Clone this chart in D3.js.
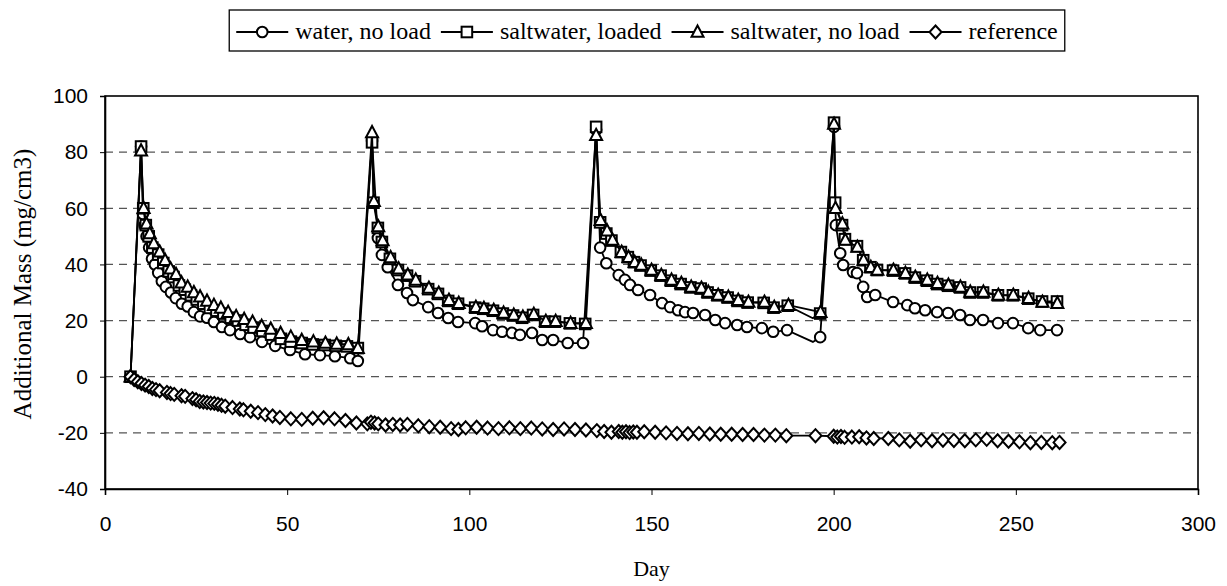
<!DOCTYPE html>
<html>
<head>
<meta charset="utf-8">
<script src="https://cdn.jsdelivr.net/npm/d3@7"></script>
<style>
  body { margin: 0; background: #fff; }
  svg { display: block; }
</style>
</head>
<body>
<div id="chart"></div>
<script>
// series data (day, mass); days listed in the "hidden" arrays get no marker
var waterDays = [7, 9.9, 10.4, 10.9, 11.4, 12.1, 12.9, 13.7, 14.6, 15.6, 16.7, 18.1, 19.4, 21.1, 22.7, 24.4, 26.1, 28, 29.9, 32.1, 34.3, 37.1, 39.8, 43.1, 46.7, 50.8, 54.9, 59, 63.1, 67.3, 69.4,
  73.3, 74.9, 76, 77.6, 80.4, 82.9, 84.5, 88.7, 91.4, 94.2, 96.9, 101.6, 103.5, 106.5, 109, 111.7, 113.9, 117.2, 120, 123, 127, 131.2,
  134.8, 135.9, 137.6, 141, 142.7, 144.1, 146.3, 149.6, 152.9, 155.1, 157.3, 159.2, 161.4, 164.7, 167.5, 170.2, 173.5, 176.2, 180.3, 183.4, 187.2, 194.3, 196.3,
  200.1, 200.6, 201.8, 202.6, 205.3, 206.4, 208.1, 209.2, 211.4, 216.3, 220.2, 222.3, 225.1, 228.4, 231.4, 234.7, 237.4, 241, 245.1, 249.2, 253.4, 256.7, 261.3];
var waterVals = [0, 82, 58, 54, 50, 46, 42, 40, 37, 34, 32, 30, 28, 26, 25, 23, 21.5, 21, 19.5, 17.7, 16.6, 15.2, 14.1, 12.4, 11, 9.5, 8, 7.7, 7.3, 6.6, 5.6,
  84, 49.4, 43.4, 39, 32.7, 29.8, 27.3, 24.8, 22.7, 20.9, 19.5, 19.1, 18, 16.6, 16, 15.6, 14.9, 15.6, 13.1, 13.1, 12, 12,
  88, 46, 40.4, 36.2, 34.5, 32.7, 30.9, 29.1, 26.2, 24.8, 23.7, 23, 22.7, 22, 20.2, 19.1, 18.4, 17.7, 17.3, 16, 16.6, 12.4, 14.1,
  89, 54, 44, 39.8, 37.3, 36.9, 32, 28.4, 29.1, 26.6, 25.5, 24.4, 23.7, 23, 22.7, 22, 20.2, 20.2, 19.1, 19.1, 17.3, 16.6, 16.6];
var waterHidden = [194.3];

var loadedDays = [7, 9.9, 10.5, 11.2, 12, 13, 14.6, 16, 17.5, 18.8, 20.3, 21.9, 23.6, 25.2, 27, 28.8, 30.6, 32.5, 34.5, 36.5, 38.6, 40.8, 43.2, 45.6, 48.3, 51, 54, 57, 60.3, 63.3, 66.4, 69.4,
  73.3, 73.7, 74.9, 76, 78.2, 80.4, 82.9, 85.1, 88.7, 91.4, 94.2, 96.9, 101.6, 103.8, 106.5, 109.2, 112, 114.5, 117.5, 120.8, 123.5, 127.6, 131.8,
  134.8, 135.9, 137.6, 139, 141.6, 143.5, 145.2, 147, 149.8, 152.5, 155.3, 158, 160.7, 163.5, 165.4, 168.1, 170.9, 173.6, 176.4, 180.8, 183.5, 187.4, 194.3, 196.3,
  200.1, 200.4, 202.3, 203.1, 206.4, 208.1, 210.1, 211.9, 216.3, 219.6, 222.3, 225.6, 228.4, 231.4, 234.7, 237.4, 241, 245.1, 249.2, 253.4, 257.2, 261.3];
var loadedVals = [0, 82, 60, 54, 50, 46, 43.5, 40.5, 37.5, 35.5, 32.5, 31, 29, 27.5, 26, 24.5, 23.5, 22.5, 21, 20, 18.5, 17.5, 16.3, 15, 13.5, 12.5, 12, 11.5, 11.3, 11, 10.8, 10.2,
  83.5, 62, 53, 48, 42, 38, 36, 34, 31.2, 29.5, 27, 26, 24.6, 24.2, 23.5, 22.5, 21.8, 21, 22, 19.6, 19.6, 19, 18.8,
  89, 55, 51, 48.5, 44.4, 42.6, 40.8, 39.6, 37.8, 36, 34.2, 33, 31.8, 31.4, 30, 29, 28.2, 27, 26.4, 26.3, 24.6, 25.3, 20.8, 22.5,
  90.5, 62, 54, 49, 46.5, 41.5, 39, 38, 37.8, 36.8, 35.3, 34.2, 33, 32.4, 31.8, 30, 30, 29, 29, 27.8, 26.8, 26.8];
var loadedHidden = [194.3];

var noloadDays = [7, 9.9, 10.6, 11.4, 12.3, 13.4, 15, 16.5, 18, 19.5, 21, 22.7, 24.4, 26.1, 28, 29.9, 31.8, 33.8, 36, 38.2, 40.5, 43, 45.5, 48.2, 51, 54, 57.2, 60.5, 63.6, 66.8, 69.4,
  73.3, 73.8, 75, 76.2, 78.4, 80.6, 83.1, 85.3, 88.9, 91.6, 94.4, 97.1, 101.8, 104, 106.7, 109.4, 112.2, 114.7, 117.7, 121, 123.7, 127.8, 132,
  134.8, 136, 137.8, 139.3, 141.8, 143.7, 145.4, 147.2, 150, 152.7, 155.5, 158.2, 160.9, 163.7, 165.6, 168.3, 171.1, 173.8, 176.6, 181, 183.7, 187.6, 196.4,
  200.1, 200.5, 202.4, 203.2, 206.5, 208.2, 210.2, 212, 216.4, 219.7, 222.4, 225.7, 228.5, 231.5, 234.8, 237.5, 241.1, 245.2, 249.3, 253.5, 257.3, 261.4];
var noloadVals = [0, 80.5, 60, 54.5, 51, 47.5, 44.5, 41.5, 38.5, 36.5, 33.5, 32, 30, 28.5, 27, 25.5, 24.5, 23, 21.5, 20.5, 19.5, 18, 17, 15.5, 14.2, 13, 12.5, 12, 11.7, 11.5, 10.2,
  87, 62.5, 53.5, 48.5, 42.5, 38.5, 36.3, 34.5, 31.6, 29.8, 27.3, 26.2, 24.8, 24.4, 23.7, 22.7, 22, 21.3, 22.3, 19.8, 19.8, 19.1, 19.1,
  86, 55.8, 52, 48.7, 44.4, 42.6, 40.8, 39.8, 38, 36.2, 34.5, 33.3, 32, 31.6, 30.2, 29.1, 28.4, 27.3, 26.6, 26.6, 24.8, 25.5, 23,
  90, 60, 54.5, 48.7, 46.2, 41.6, 39, 38, 38, 36.9, 35.5, 34.5, 33.3, 32.7, 32, 30.2, 30.2, 29.1, 29.1, 28, 26.6, 26.2];
var noloadHidden = [];

var refDays = [7, 8, 9, 10, 11, 12, 13, 14, 15, 17, 18, 19, 21, 22, 24, 25, 26, 27, 28, 29, 30, 31, 32, 33, 35, 37, 38, 40, 42, 44, 46, 48, 51, 54, 57, 60, 63, 66, 69, 72, 73, 74, 75, 77, 79, 81, 83, 86, 89, 92, 95, 97, 99, 102, 105, 108, 111, 114, 117, 120, 123, 126, 129, 132, 135, 137, 139, 141, 142, 143, 144, 145, 146, 148, 151, 154, 157, 160, 163, 166, 169, 172, 175, 178, 181, 184, 187, 195, 200, 201, 202, 203, 205, 207, 209, 211, 215, 218, 221, 224, 227, 230, 233, 236, 239, 242, 245, 248, 251, 254, 257, 260, 262];
var refVals = [0, -1, -1.8, -2.4, -3, -3.5, -4.2, -4.6, -5, -5.6, -6, -6.3, -6.8, -7, -7.8, -8.2, -8.8, -9, -9.2, -9.4, -9.5, -9.8, -10.2, -10.5, -11, -11.5, -11.8, -12.3, -12.8, -13.5, -14, -14.5, -15, -15.2, -14.8, -14.6, -15, -15.6, -16.5, -16.8, -16.2, -16.5, -16.8, -17.2, -17, -17.2, -17, -17.5, -17.8, -18, -18.5, -18.8, -18.2, -18, -18.3, -18.5, -18.2, -18.5, -18.3, -18.6, -18.8, -18.6, -18.8, -19, -19.2, -19.5, -19.8, -19.5, -19.8, -19.6, -19.9, -19.7, -19.8, -19.6, -19.8, -20, -20.2, -20.3, -20.2, -20.4, -20.5, -20.5, -20.6, -20.6, -20.8, -20.8, -21, -21, -21.2, -21.5, -21.3, -21.6, -21.5, -21.4, -21.8, -22, -22, -22.5, -23, -22.5, -22.8, -22.6, -22.7, -22.8, -22.5, -22.3, -22.8, -23, -23.2, -23.5, -23.4, -23.5, -23.4];
var refHidden = [];

var seriesNames = ["water, no load", "saltwater, loaded", "saltwater, no load", "reference"];
var markerTypes = ["circle", "square", "triangle", "diamond"];
var xTicks = [0, 50, 100, 150, 200, 250, 300];
var yTicks = [-40, -20, 0, 20, 40, 60, 80, 100];

function zip(days, vals, hidden)
{
  return days.map(function(d, i){
    return { day: d, val: vals[i], mark: hidden.indexOf(d) < 0 };
  });
}

var series = [
  zip(waterDays, waterVals, waterHidden),
  zip(loadedDays, loadedVals, loadedHidden),
  zip(noloadDays, noloadVals, noloadHidden),
  zip(refDays, refVals, refHidden)
];

var W = 1227, H = 586;
var plotL = 105, plotR = 1198, plotT = 96, plotB = 489;
var serif = "'Liberation Serif', 'Times New Roman', serif";
var sans = "'Liberation Sans', Arial, sans-serif";

var svg = d3.select("#chart").append("svg")
  .attr("width", W).attr("height", H);
svg.append("rect").attr("width", W).attr("height", H).attr("fill", "#fff");

var x = d3.scaleLinear().domain([0, 300]).range([plotL, plotR]);
var y = d3.scaleLinear().domain([-40, 100]).range([plotB, plotT]);

/** gridlines */
svg.append("g").selectAll("line")
  .data(yTicks.filter(function(t){ return t > -40 && t < 100; }))
  .enter().append("line")
  .attr("x1", plotL).attr("x2", plotR)
  .attr("y1", function(d){ return y(d); }).attr("y2", function(d){ return y(d); })
  .attr("stroke", "#555").attr("stroke-width", 1.2)
  .attr("stroke-dasharray", "8,6");

/** plot border */
svg.append("rect")
  .attr("x", plotL).attr("y", plotT)
  .attr("width", plotR - plotL).attr("height", plotB - plotT)
  .attr("fill", "none").attr("stroke", "#000").attr("stroke-width", 1.6);

/** axes */
var xAxis = svg.append("g")
  .attr("transform", "translate(0," + plotB + ")")
  .call(d3.axisBottom(x).tickValues(xTicks).tickSize(6).tickPadding(21).tickFormat(String));
var yAxis = svg.append("g")
  .attr("transform", "translate(" + plotL + ",0)")
  .call(d3.axisLeft(y).tickValues(yTicks).tickSize(5).tickPadding(12).tickFormat(String));
[xAxis, yAxis].forEach(function(a){
  a.select(".domain").attr("stroke", "#000").attr("stroke-width", 1.6);
  a.selectAll(".tick line").attr("stroke", "#000");
  a.selectAll("text")
    .attr("fill", "#000")
    .style("font-family", sans)
    .style("font-size", "21px");
});

svg.append("text")
  .attr("x", (plotL + plotR) / 2).attr("y", 576)
  .attr("text-anchor", "middle")
  .style("font-family", serif)
  .style("font-size", "22px")
  .text("Day");

svg.append("text")
  .attr("transform", "translate(31,284) rotate(-90)")
  .attr("text-anchor", "middle")
  .style("font-family", serif)
  .style("font-size", "25px")
  .text("Additional Mass (mg/cm3)");

/** marker drawing */
function drawMarker(g, type, cx, cy)
{
  var m;
  if (type === "circle")
    m = g.append("circle").attr("cx", cx).attr("cy", cy).attr("r", 5.3);
  else if (type === "square")
    m = g.append("rect").attr("x", cx - 5.3).attr("y", cy - 5.3).attr("width", 10.6).attr("height", 10.6);
  else if (type === "triangle")
    m = g.append("path").attr("d", "M" + cx + "," + (cy - 6.5) + "L" + (cx + 6) + "," + (cy + 4.8) + "L" + (cx - 6) + "," + (cy + 4.8) + "Z");
  else
    m = g.append("path").attr("d", "M" + cx + "," + (cy - 6.5) + "L" + (cx + 6) + "," + cy + "L" + cx + "," + (cy + 6.5) + "L" + (cx - 6) + "," + cy + "Z");
  m.attr("fill", "#fff").attr("stroke", "#000").attr("stroke-width", 2);
}

var line = d3.line()
  .x(function(d){ return x(d.day); })
  .y(function(d){ return y(d.val); });

series.forEach(function(s, i){
  var g = svg.append("g");
  g.append("path").datum(s)
    .attr("d", line)
    .attr("fill", "none").attr("stroke", "#000").attr("stroke-width", 1.8);
  s.forEach(function(p){
    if (p.mark) drawMarker(g, markerTypes[i], x(p.day), y(p.val));
  });
});

/** legend, laid out left to right then centred */
var legend = svg.append("g");
var inner = legend.append("g");
var lx = 0, ly = 32, segLen = 52, gapAfter = 10, pad = 7;
seriesNames.forEach(function(name, i){
  var g = inner.append("g");
  g.append("line").attr("x1", lx).attr("x2", lx + segLen).attr("y1", ly).attr("y2", ly)
    .attr("stroke", "#000").attr("stroke-width", 1.8);
  drawMarker(g, markerTypes[i], lx + segLen / 2, ly);
  var t = g.append("text")
    .attr("x", lx + segLen + 7).attr("y", ly + 7)
    .style("font-family", serif)
    .style("font-size", "24px")
    .text(name);
  lx = lx + segLen + 7 + t.node().getComputedTextLength() + gapAfter;
});
var legW = lx - gapAfter + 2 * pad;
var legX = 647 - legW / 2;
inner.attr("transform", "translate(" + (legX + pad) + ",0)");
legend.insert("rect", ":first-child")
  .attr("x", legX).attr("y", 10)
  .attr("width", legW).attr("height", 41)
  .attr("fill", "#fff").attr("stroke", "#000").attr("stroke-width", 1.3);
</script>
</body>
</html>
